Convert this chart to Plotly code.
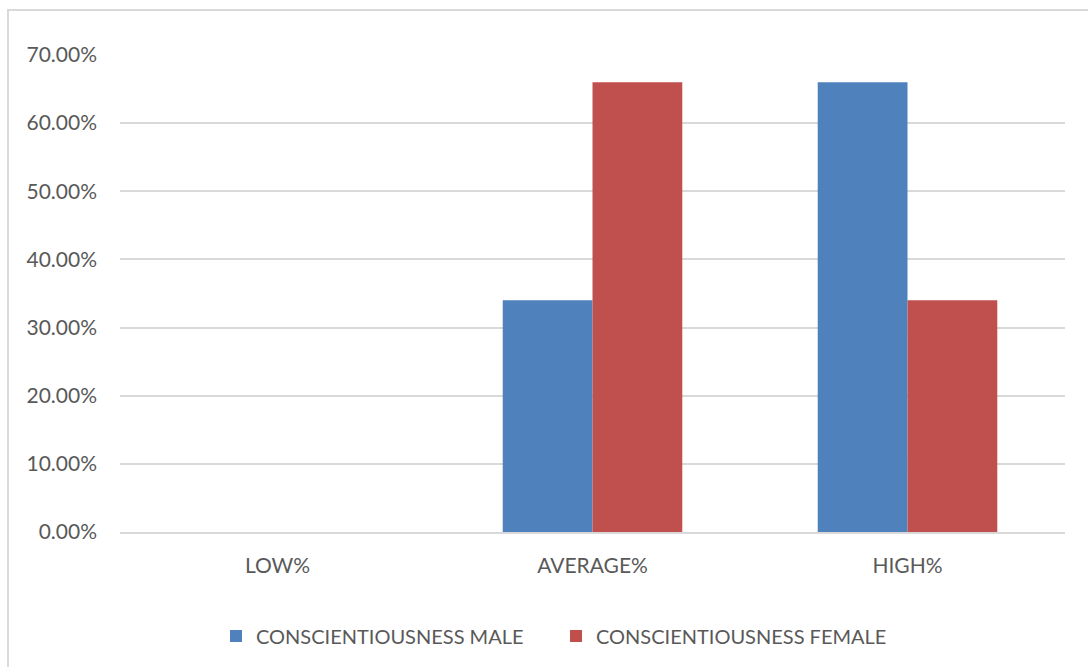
import plotly.graph_objects as go

categories = ["LOW%", "AVERAGE%", "HIGH%"]
male = [0.0, 0.34, 0.66]
female = [0.0, 0.66, 0.34]
series_names = ["CONSCIENTIOUSNESS MALE", "CONSCIENTIOUSNESS FEMALE"]
tick_values = [0, 0.1, 0.2, 0.3, 0.4, 0.5, 0.6, 0.7]

W, H = 1088, 667
L, R, T, B = 120, 23, 55, 135
pw = W - L - R
ph = H - T - B


def px_x(x):
    return (x - L) / pw


def px_y(y):
    return (H - B - y) / ph


fig = go.Figure()
fig.add_trace(go.Bar(x=categories, y=male, name=series_names[0],
                     marker=dict(color="#4f81bd", line=dict(width=0))))
fig.add_trace(go.Bar(x=categories, y=female, name=series_names[1],
                     marker=dict(color="#c0504d", line=dict(width=0))))

# outer chart frame (runs past the right and bottom edges of the page)
fig.add_shape(type="rect", xref="paper", yref="paper",
              x0=px_x(8), x1=px_x(W + 10), y0=px_y(H + 10), y1=px_y(10),
              line=dict(color="#d9d9d9", width=2), fillcolor="rgba(0,0,0,0)",
              layer="below")

axis_font = dict(family="Lato, sans-serif", size=21, color="#595959")
legend_font = dict(family="Lato, sans-serif", size=20, color="#595959")

fig.update_layout(
    width=W, height=H,
    margin=dict(l=L, r=R, t=T, b=B, pad=0),
    paper_bgcolor="white", plot_bgcolor="white",
    barmode="group", bargap=0.43, bargroupgap=0,
    font=axis_font,
    showlegend=True,
    legend=dict(orientation="h", x=px_x(216), xanchor="left",
                y=px_y(636), yanchor="middle",
                font=legend_font, itemwidth=30,
                entrywidth=295, entrywidthmode="pixels",
                bgcolor="rgba(0,0,0,0)"),
    xaxis=dict(showgrid=False, showline=True, linecolor="#d9d9d9", linewidth=2,
               ticks="", ticklabelstandoff=14, tickfont=axis_font, fixedrange=True),
    yaxis=dict(range=[0, 0.7], tickvals=tick_values, tickformat=".2%",
               showgrid=True, gridcolor="#d9d9d9", gridwidth=2,
               zeroline=False, showline=False, ticks="",
               ticklabelstandoff=22, tickfont=axis_font, fixedrange=True),
)

fig.write_html("out.html")
